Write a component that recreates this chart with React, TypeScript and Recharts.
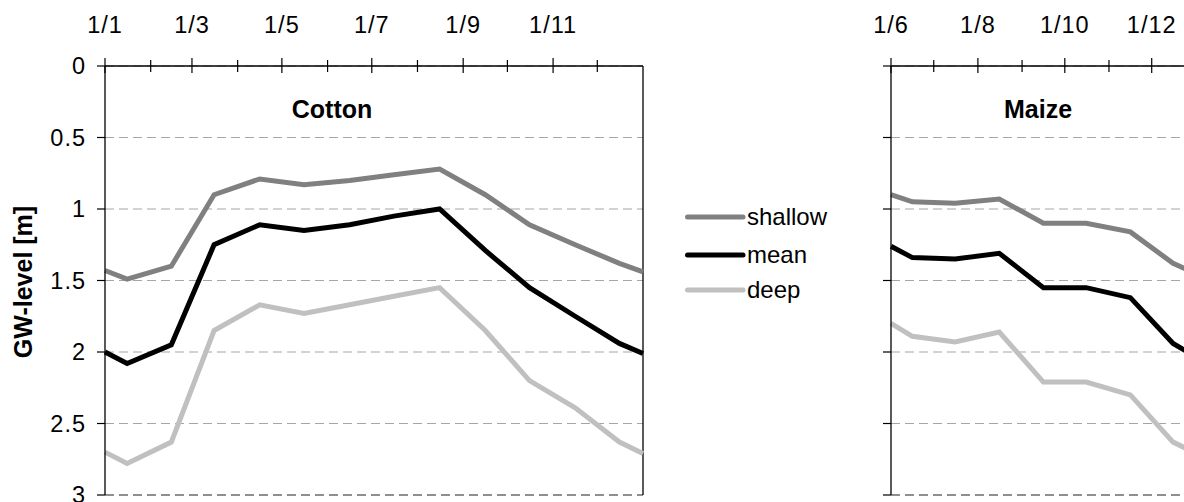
import React from 'react';
import { LineChart, Line, XAxis, YAxis, CartesianGrid, ReferenceLine, Legend } from 'recharts';

const FONT = '"Liberation Sans", Arial, Helvetica, sans-serif';

// ---- data (x = day of year, 0 = 1 Jan) ----
const cottonDays = [0, 15, 45, 74, 105, 135, 166, 196, 227, 258, 288, 319, 349, 365];
const cottonShallow = [1.43, 1.49, 1.40, 0.90, 0.79, 0.83, 0.80, 0.76, 0.72, 0.90, 1.11, 1.25, 1.38, 1.44];
const cottonMean = [2.00, 2.08, 1.95, 1.25, 1.11, 1.15, 1.11, 1.05, 1.00, 1.29, 1.55, 1.75, 1.94, 2.01];
const cottonDeep = [2.70, 2.78, 2.63, 1.85, 1.67, 1.73, 1.67, 1.61, 1.55, 1.85, 2.20, 2.39, 2.63, 2.71];

const maizeDays = [151, 166, 196, 227, 258, 288, 319, 349, 380];
const maizeShallow = [0.90, 0.95, 0.96, 0.93, 1.10, 1.10, 1.16, 1.38, 1.52];
const maizeMean = [1.26, 1.34, 1.35, 1.31, 1.55, 1.55, 1.62, 1.94, 2.12];
const maizeDeep = [1.80, 1.89, 1.93, 1.86, 2.21, 2.21, 2.30, 2.63, 2.78];

const cottonTicks = [0, 31, 59, 90, 120, 151, 181, 212, 243, 273, 304, 334];
const cottonTickLabels = ['1/1', '', '1/3', '', '1/5', '', '1/7', '', '1/9', '', '1/11', ''];
const maizeTicks = [151, 181, 212, 243, 273, 304, 334, 365, 396, 424, 455, 485];
const maizeTickLabels = ['1/6', '', '1/8', '', '1/10', '', '1/12', '', '1/2', '', '1/4', ''];

const yTicks = [0, 0.5, 1, 1.5, 2, 2.5, 3];
const seriesNames = ['shallow', 'mean', 'deep'];
const seriesColors = ['#808080', '#000000', '#c0c0c0'];
const panelTitles = ['Cotton', 'Maize'];
const yLabel = 'GW-level [m]';

const cottonData = cottonDays.map((d, i) => ({ day: d, shallow: cottonShallow[i], mean: cottonMean[i], deep: cottonDeep[i] }));
const maizeData = maizeDays.map((d, i) => ({ day: d, shallow: maizeShallow[i], mean: maizeMean[i], deep: maizeDeep[i] }));

const makeTopTick = (ticks: number[], labels: string[]) => (props: any) => {
  const { x, y, payload } = props;
  const i = ticks.indexOf(payload.value);
  const label = i >= 0 ? labels[i] : '';
  const major = label !== '';
  return (
    <g>
      <line x1={x} x2={x} y1={y - (major ? 8 : 6)} y2={y + (major ? 7 : 6)} stroke="#000" strokeWidth={1.2} />
      {label ? (
        <text x={x} y={y - 33} textAnchor="middle" fontSize={23.5} letterSpacing={1} fontFamily={FONT} fill="#000">
          {label}
        </text>
      ) : null}
    </g>
  );
};

const renderLegend = () => {
  const rowsY = [19, 57, 92];
  return (
    <svg width={170} height={110} style={{ display: 'block' }}>
      {seriesNames.map((n, i) => (
        <g key={n}>
          <line x1={2.5} x2={58} y1={rowsY[i]} y2={rowsY[i]} stroke={seriesColors[i]} strokeWidth={5} strokeLinecap="round" />
          <text x={62} y={rowsY[i] + 8} fontSize={24} fontFamily={FONT} fill="#000">
            {n}
          </text>
        </g>
      ))}
    </svg>
  );
};

const series = (keyPrefix: string) =>
  seriesNames.map((n, i) => (
    <Line
      key={keyPrefix + n}
      type="linear"
      dataKey={n}
      name={n}
      stroke={seriesColors[i]}
      strokeWidth={5}
      dot={false}
      activeDot={false}
      isAnimationActive={false}
    />
  ));

export default function App() {
  return (
    <div
      style={{
        position: 'fixed',
        left: 0,
        top: 0,
        width: 1184,
        height: 502,
        overflow: 'hidden',
        background: '#fff',
        fontFamily: FONT,
      }}
    >
      <div style={{ position: 'absolute', left: 0, top: 0 }}>
        <LineChart width={850} height={530} data={cottonData} margin={{ top: 0, right: 207, bottom: 35, left: 0 }}>
          <CartesianGrid vertical={false} stroke="#a6a6a6" strokeDasharray="9 5" strokeWidth={1.2} />
          <XAxis
            dataKey="day"
            type="number"
            domain={[0, 365]}
            ticks={cottonTicks}
            interval={0}
            orientation="top"
            height={66}
            tickSize={0}
            tickMargin={0}
            tickLine={false}
            axisLine={{ stroke: '#000', strokeWidth: 1.3 }}
            tick={makeTopTick(cottonTicks, cottonTickLabels)}
          />
          <YAxis
            type="number"
            reversed
            domain={[0, 3]}
            ticks={yTicks}
            interval={0}
            width={105}
            tickSize={8}
            tickMargin={11}
            axisLine={{ stroke: '#000', strokeWidth: 1.3 }}
            tickLine={{ stroke: '#000', strokeWidth: 1.2 }}
            tick={{ fill: '#000', fontSize: 23.5, letterSpacing: 1, fontFamily: FONT }}
          />
          <ReferenceLine y={3} stroke="#7a7a7a" strokeWidth={1.6} strokeDasharray="9 5" />
          <ReferenceLine x={365} stroke="#000" strokeWidth={1.3} />
          {series('c')}
          <Legend
            layout="vertical"
            align="center"
            verticalAlign="middle"
            wrapperStyle={{ left: 685, top: 198, width: 170, height: 110 }}
            content={renderLegend}
          />
          <text x={332} y={118} textAnchor="middle" fontSize={25} fontWeight="bold" fontFamily={FONT} fill="#000">
            {panelTitles[0]}
          </text>
          <text
            x={32}
            y={282}
            transform="rotate(-90 32 282)"
            textAnchor="middle"
            fontSize={25}
            fontWeight="bold"
            fontFamily={FONT}
            fill="#000"
          >
            {yLabel}
          </text>
        </LineChart>
      </div>
      <div style={{ position: 'absolute', left: 800, top: 0 }}>
        <LineChart width={640} height={530} data={maizeData} margin={{ top: 0, right: 29, bottom: 35, left: 0 }}>
          <CartesianGrid vertical={false} stroke="#a6a6a6" strokeDasharray="9 5" strokeWidth={1.2} />
          <XAxis
            dataKey="day"
            type="number"
            domain={[151, 516]}
            ticks={maizeTicks}
            interval={0}
            orientation="top"
            height={66}
            tickSize={0}
            tickMargin={0}
            tickLine={false}
            axisLine={{ stroke: '#000', strokeWidth: 1.3 }}
            tick={makeTopTick(maizeTicks, maizeTickLabels)}
          />
          <YAxis
            type="number"
            reversed
            domain={[0, 3]}
            ticks={yTicks}
            interval={0}
            width={91}
            tickSize={8}
            tickMargin={12}
            axisLine={{ stroke: '#000', strokeWidth: 1.3 }}
            tickLine={{ stroke: '#000', strokeWidth: 1.2 }}
            tick={() => <g />}
          />
          <ReferenceLine y={3} stroke="#7a7a7a" strokeWidth={1.6} strokeDasharray="9 5" />
          {series('m')}
          <text x={238} y={118} textAnchor="middle" fontSize={25} fontWeight="bold" fontFamily={FONT} fill="#000">
            {panelTitles[1]}
          </text>
        </LineChart>
      </div>
    </div>
  );
}
